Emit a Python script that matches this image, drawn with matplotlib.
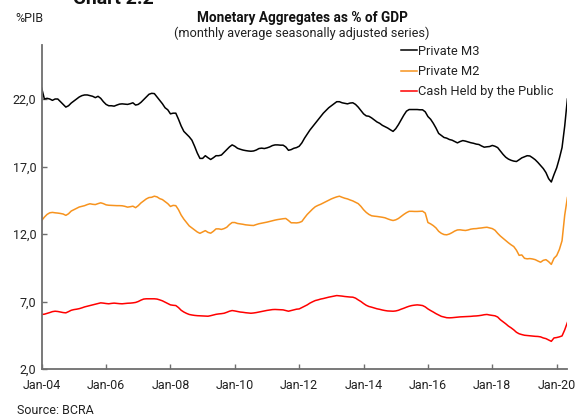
import matplotlib
matplotlib.use("Agg")
import matplotlib.pyplot as plt
import numpy as np

plt.rcParams['font.family'] = ['Roboto', 'DejaVu Sans']

# Monthly data, Jan-2004 .. May-2020 (% of GDP)
private_m3 = [
    22.8, 22.0, 22.05, 22.0, 21.9, 22.0, 22.0, 21.8, 21.6, 21.4, 21.5, 21.7,
    21.85, 22.0, 22.15, 22.25, 22.3, 22.3, 22.25, 22.2, 22.1, 22.2, 22.05, 21.8,
    21.6, 21.5, 21.5, 21.47, 21.55, 21.62, 21.64, 21.62, 21.6, 21.65, 21.72, 21.55,
    21.6, 21.75, 21.95, 22.15, 22.35, 22.42, 22.4, 22.15, 21.9, 21.65, 21.35, 21.2,
    20.9, 20.95, 20.95, 20.5, 20.0, 19.6, 19.4, 19.2, 18.95, 18.5, 18.0, 17.6,
    17.6, 17.8, 17.65, 17.52, 17.65, 17.8, 17.8, 17.85, 18.05, 18.25, 18.45, 18.6,
    18.5, 18.35, 18.28, 18.22, 18.18, 18.15, 18.13, 18.15, 18.22, 18.33, 18.36, 18.33,
    18.38, 18.45, 18.55, 18.6, 18.6, 18.58, 18.58, 18.45, 18.2, 18.25, 18.35, 18.4,
    18.5, 18.75, 19.1, 19.4, 19.7, 19.95, 20.2, 20.45, 20.7, 20.95, 21.15, 21.35,
    21.5, 21.65, 21.8, 21.8, 21.72, 21.68, 21.64, 21.7, 21.72, 21.6, 21.4, 21.15,
    20.9, 20.75, 20.72, 20.6, 20.45, 20.3, 20.2, 20.05, 19.95, 19.85, 19.72, 19.6,
    19.8, 20.1, 20.45, 20.8, 21.1, 21.22, 21.22, 21.22, 21.22, 21.2, 21.2, 21.05,
    20.7, 20.5, 20.2, 19.85, 19.45, 19.3, 19.15, 19.1, 19.0, 18.95, 18.85, 18.75,
    18.85, 18.92, 18.88, 18.82, 18.76, 18.72, 18.66, 18.63, 18.52, 18.43, 18.46, 18.48,
    18.56, 18.5, 18.4, 18.15, 17.9, 17.69, 17.55, 17.46, 17.4, 17.37, 17.5, 17.64,
    17.72, 17.8, 17.78, 17.65, 17.5, 17.3, 17.07, 16.85, 16.55, 16.1, 15.85, 16.4,
    16.9, 17.6, 18.4, 20.0, 22.0,
]

private_m2 = [
    13.0, 13.25, 13.45, 13.57, 13.6, 13.57, 13.55, 13.52, 13.48, 13.38, 13.5, 13.7,
    13.8, 13.9, 14.0, 14.05, 14.1, 14.18, 14.24, 14.2, 14.18, 14.25, 14.31, 14.25,
    14.16, 14.13, 14.12, 14.11, 14.1, 14.1, 14.09, 14.05, 13.99, 14.02, 14.06, 13.95,
    14.1, 14.3, 14.45, 14.6, 14.7, 14.72, 14.8, 14.75, 14.62, 14.55, 14.4, 14.25,
    14.04, 14.12, 14.1, 13.8, 13.4, 13.1, 12.85, 12.6, 12.45, 12.3, 12.15, 12.05,
    12.15, 12.25, 12.12, 12.06, 12.2, 12.38, 12.38, 12.34, 12.4, 12.5, 12.7, 12.85,
    12.85, 12.78, 12.75, 12.72, 12.68, 12.66, 12.64, 12.63, 12.7, 12.76, 12.8, 12.84,
    12.88, 12.93, 12.98, 13.03, 13.07, 13.1, 13.13, 13.15, 13.0, 12.83, 12.83, 12.82,
    12.85, 12.93, 13.2, 13.45, 13.65, 13.85, 14.02, 14.12, 14.2, 14.3, 14.4, 14.5,
    14.6, 14.68, 14.75, 14.8, 14.72, 14.65, 14.6, 14.52, 14.45, 14.35, 14.25, 14.05,
    13.8, 13.6, 13.45, 13.35, 13.32, 13.3, 13.27, 13.24, 13.2, 13.12, 13.05, 13.0,
    13.05, 13.15, 13.3, 13.45, 13.58, 13.68, 13.68, 13.67, 13.67, 13.68, 13.69, 13.55,
    12.85, 12.75, 12.62, 12.45, 12.2, 12.05, 11.96, 11.94, 12.0, 12.1, 12.22, 12.3,
    12.31, 12.28, 12.26, 12.3, 12.36, 12.39, 12.4, 12.43, 12.45, 12.48, 12.5, 12.45,
    12.4, 12.28, 12.05, 11.85, 11.68, 11.52, 11.35, 11.2, 11.07, 10.8, 10.42, 10.45,
    10.2, 10.16, 10.18, 10.15, 10.1, 10.0, 9.91, 10.05, 10.1, 9.95, 9.75, 10.2,
    10.4, 10.85, 11.5, 13.4, 14.7,
]

cash_public = [
    6.04, 6.06, 6.12, 6.18, 6.25, 6.28, 6.26, 6.22, 6.18, 6.16, 6.25, 6.35,
    6.4, 6.43, 6.47, 6.53, 6.6, 6.65, 6.7, 6.75, 6.8, 6.85, 6.9, 6.88,
    6.85, 6.83, 6.86, 6.88, 6.86, 6.84, 6.83, 6.85, 6.87, 6.88, 6.9, 6.93,
    7.0, 7.1, 7.18, 7.2, 7.2, 7.2, 7.2, 7.18, 7.12, 7.05, 6.95, 6.85,
    6.75, 6.72, 6.7, 6.55, 6.35, 6.22, 6.12, 6.04, 6.0, 5.97, 5.95, 5.94,
    5.93, 5.92, 5.91, 5.95, 6.0, 6.05, 6.08, 6.1, 6.13, 6.2, 6.28, 6.33,
    6.3, 6.26, 6.22, 6.2, 6.17, 6.15, 6.13, 6.15, 6.18, 6.22, 6.26, 6.3,
    6.34, 6.37, 6.4, 6.41, 6.4, 6.39, 6.38, 6.33, 6.28, 6.33, 6.38, 6.43,
    6.45, 6.55, 6.65, 6.75, 6.88, 6.98, 7.07, 7.12, 7.18, 7.22, 7.27, 7.32,
    7.36, 7.4, 7.44, 7.42, 7.4, 7.37, 7.35, 7.33, 7.32, 7.25, 7.12, 7.0,
    6.85, 6.72, 6.63, 6.58, 6.52, 6.46, 6.42, 6.37, 6.33, 6.3, 6.29, 6.28,
    6.3, 6.35, 6.43, 6.5, 6.58, 6.65, 6.7, 6.73, 6.75, 6.73, 6.7, 6.6,
    6.45, 6.33, 6.22, 6.1, 6.0, 5.9, 5.85, 5.8, 5.79, 5.8, 5.82, 5.84,
    5.86, 5.87, 5.88, 5.89, 5.9, 5.92, 5.93, 5.95, 5.98, 6.02, 6.04, 6.0,
    5.97, 5.94, 5.85, 5.65, 5.5, 5.35, 5.18, 5.05, 4.9, 4.72, 4.61, 4.55,
    4.5, 4.48, 4.46, 4.44, 4.42, 4.41, 4.38, 4.3, 4.25, 4.15, 4.05, 4.3,
    4.33, 4.38, 4.45, 4.9, 5.45,
]

series_names = ["Private M3", "Private M2", "Cash Held by the Public"]
series_colors = ["#000000", "#F7931E", "#FF0000"]

x_tick_labels = ["Jan-04", "Jan-06", "Jan-08", "Jan-10", "Jan-12",
                 "Jan-14", "Jan-16", "Jan-18", "Jan-20"]
y_ticks = [2.0, 7.0, 12.0, 17.0, 22.0]

W, H = 577, 420
fig = plt.figure(figsize=(W / 100, H / 100), dpi=100)
ax = fig.add_axes([41.7 / W, 1 - 369 / H, (567.4 - 41.7) / W, (369 - 45) / H])

for vals, name, col in zip([private_m3, private_m2, cash_public], series_names, series_colors):
    ax.plot(np.arange(len(vals)), vals, color=col, lw=1.1, label=name)

ax.set_xlim(0, len(private_m3) - 1)
ax.set_ylim(2, 26)
ax.set_xticks(np.arange(len(x_tick_labels)) * 24)
ax.set_xticklabels(x_tick_labels)
ax.set_yticks(y_ticks)
ax.set_yticklabels([f"{v:.1f}".replace(".", ",") for v in y_ticks])

for s in ["top", "right"]:
    ax.spines[s].set_visible(False)
for s in ["left", "bottom"]:
    ax.spines[s].set_color("#6e6e6e")
    ax.spines[s].set_linewidth(1.3)

ax.tick_params(axis="both", direction="in", length=3.5, width=1.0, color="#6e6e6e",
               labelsize=9, labelcolor="#222222")
ax.tick_params(axis="x", pad=7)
ax.tick_params(axis="y", pad=4)

leg = fig.legend(loc="upper left", bbox_to_anchor=(401 / W, 1 - 45 / H),
                 frameon=False, fontsize=9.3, handlelength=1.25, handletextpad=0.1,
                 labelspacing=0.55, borderpad=0, borderaxespad=0)
for t in leg.get_texts():
    t.set_color("#222222")

fig.text(302 / W, 1 - 18 / H, "Monetary Aggregates as % of GDP", ha="center", va="center",
         fontsize=9.8, fontweight="bold", color="#111111")
fig.text(302 / W, 1 - 33 / H, "(monthly average seasonally adjusted series)", ha="center",
         va="center", fontsize=9.2, color="#222222")
fig.text(15 / W, 1 - 19 / H, "%PIB", ha="left", va="center", fontsize=9, color="#222222")
fig.text(73 / W, 1 - 4 / H, "Chart 2.2", ha="left", va="baseline", fontsize=14,
         fontweight="bold", color="#111111")
fig.text(17 / W, 1 - 410 / H, "Source: BCRA", ha="left", va="center", fontsize=9,
         color="#222222")

fig.savefig("out.png", dpi=100)
